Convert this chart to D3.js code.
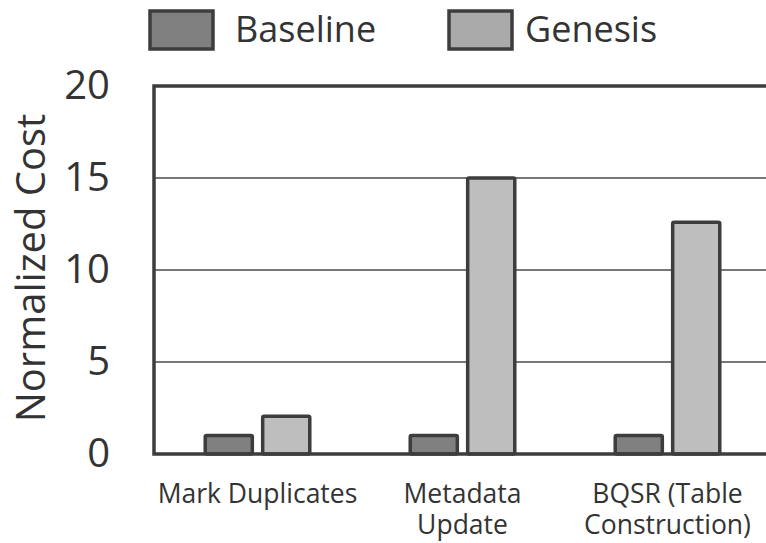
<!DOCTYPE html>
<html>
<head>
<meta charset="utf-8">
<script src="https://cdn.jsdelivr.net/npm/d3@7"></script>
<style>
  html, body { margin: 0; padding: 0; background: #fff; }
  svg { display: block; font-family: "Open Sans", "Noto Sans", sans-serif; }
</style>
</head>
<body>
<svg id="chart" width="766" height="543"></svg>
<script>
const categories = [["Mark Duplicates"], ["Metadata", "Update"], ["BQSR (Table", "Construction)"]];
const seriesNames = ["Baseline", "Genesis"];
const baselineValues = [1, 1, 1];
const genesisValues = [2.05, 15, 12.6];
const yTicks = [0, 5, 10, 15, 20];
const yTitle = "Normalized Cost";

const barFill = { Baseline: "#808080", Genesis: "#bebebe" };
const legendFill = { Baseline: "#808080", Genesis: "#aaaaaa" };
const ink = "#3d3d3d";

const svg = d3.select("#chart");
const plotLeft = 155, plotRight = 770, plotTop = 86, plotBottom = 454;

const catKeys = categories.map(c => c.join(" "));
const x0 = d3.scaleBand().domain(catKeys).range([plotLeft, plotRight]).paddingInner(0.49).paddingOuter(0.245);
const x1 = d3.scaleBand().domain(seriesNames).range([0, x0.bandwidth()]).paddingInner(0.18);
const y = d3.scaleLinear().domain([0, 20]).range([plotBottom, plotTop]);

const data = catKeys.map((k, i) => ({ key: k, lines: categories[i], Baseline: baselineValues[i], Genesis: genesisValues[i] }));

// gridlines
svg.append("g").selectAll("line").data(yTicks.filter(t => t > 0 && t < 20)).join("line")
  .attr("x1", plotLeft).attr("x2", 766)
  .attr("y1", d => y(d)).attr("y2", d => y(d))
  .attr("stroke", "#4a4a4a").attr("stroke-width", 1.6);

// bars
const groups = svg.append("g").selectAll("g").data(data).join("g")
  .attr("transform", d => `translate(${x0(d.key)},0)`);
groups.selectAll("rect").data(d => seriesNames.map(s => ({ s, v: d[s] }))).join("rect")
  .attr("x", d => x1(d.s))
  .attr("width", x1.bandwidth())
  .attr("y", d => y(d.v))
  .attr("height", d => y(0) - y(d.v))
  .attr("fill", d => barFill[d.s])
  .attr("stroke", ink).attr("stroke-width", 3.5)
  .attr("rx", 1.5);

// frame
svg.append("path")
  .attr("d", `M${plotRight},${plotTop} H${plotLeft - 1} V${plotBottom} H${plotRight}`)
  .attr("fill", "none").attr("stroke", ink).attr("stroke-width", 3.5);

// y axis labels
const yAxis = d3.axisLeft(y).tickValues(yTicks).tickSize(0).tickPadding(0);
const yg = svg.append("g").attr("transform", `translate(110,0)`).call(yAxis);
yg.select(".domain").remove();
yg.selectAll("text").attr("font-size", 40).attr("fill", "#333").attr("font-family", "Open Sans, sans-serif");

// y title
svg.append("text")
  .attr("transform", `translate(45,268) rotate(-90)`)
  .attr("text-anchor", "middle")
  .attr("font-size", 40).attr("fill", "#333")
  .text(yTitle);

// x labels (one text per line)
const lineItems = [];
data.forEach(d => d.lines.forEach((t, i) => lineItems.push({ key: d.key, t, i })));
svg.append("g").selectAll("text").data(lineItems).join("text")
  .attr("x", d => x0(d.key) + x0.bandwidth() / 2)
  .attr("y", d => 503 + d.i * 31)
  .attr("text-anchor", "middle")
  .attr("font-size", 26.5).attr("fill", "#333")
  .text(d => d.t);

// legend
const legendX = [150, 449];
const legendTextX = [235, 525];
const lg = svg.append("g").selectAll("g").data(seriesNames).join("g");
lg.append("rect").attr("x", (d, i) => legendX[i]).attr("y", 11).attr("width", 63).attr("height", 38)
  .attr("fill", d => legendFill[d]).attr("stroke", ink).attr("stroke-width", 3.5);
lg.append("text").attr("x", (d, i) => legendTextX[i]).attr("y", 42)
  .attr("font-size", 36).attr("fill", "#333").text(d => d);
</script>
</body>
</html>
